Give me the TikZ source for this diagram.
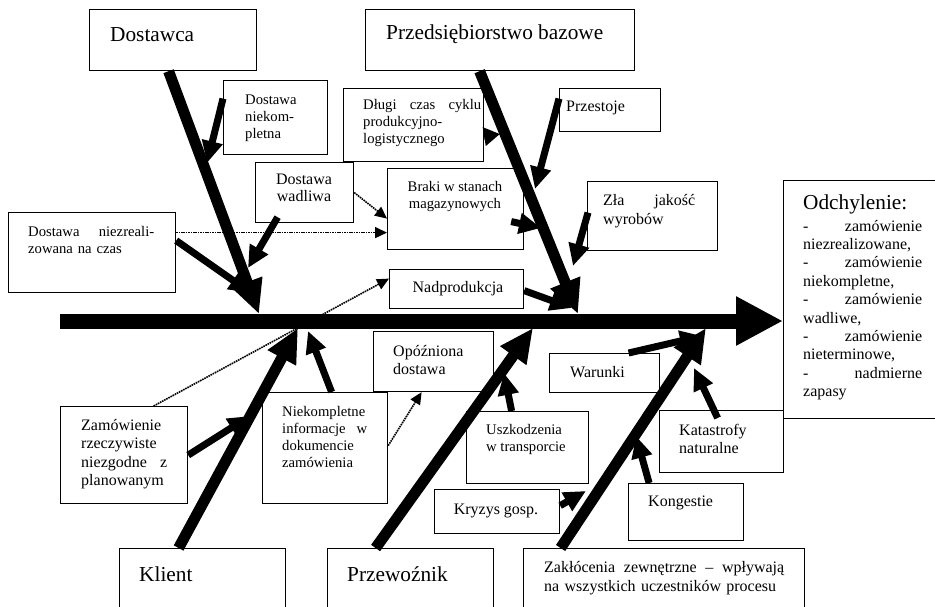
\documentclass[tikz,border=0pt]{standalone}
\usepackage{fontspec}
\setmainfont{Liberation Serif}
\usetikzlibrary{arrows.meta}

\begin{document}
\begin{tikzpicture}[x = 1pt, y = -1pt]
  \tikzset{
      every node/.append style = {
          inner sep = 0pt,
          font = \fontsize{16}{18.4}\selectfont
      },
      box/.style = {
          draw,
          fill = white,
          line width = 1.2pt,
          anchor = north west
      },
      txt/.style = {
          align = left
      },
      smalltext/.style = {
          font = \fontsize{14.67}{17}\selectfont
      },
      bigtext/.style = {
          font = \fontsize{21.3}{25}\selectfont
      },
      spine/.style = {
          line width = 15pt,
          -{Triangle[length = 47pt, width = 46pt]}
      },
      bone/.style = {
          line width = 11pt,
          -{Triangle[length = 34pt, width = 30pt]}
      },
      cause/.style = {
          line width = 7pt,
          -{Triangle[length = 22pt, width = 20pt]}
      },
      hint/.style = {
          line width = 1.6pt,
          dash pattern = on 1.6pt off 0.8pt,
          -{Triangle[length = 12pt, width = 11pt]}
      }
  }
  \useasboundingbox (0,0) rectangle (935,607);
  \clip (0,0) rectangle (935,607);

  \node[box, minimum width = 167pt, minimum height = 61pt] (dost) at (89,9) {};
  \node[box, minimum width = 269pt, minimum height = 61pt] (przed) at (365,9) {};
  \node[box, minimum width = 104pt, minimum height = 74pt] (dnk) at (223,80) {};
  \node[box, minimum width = 98pt, minimum height = 60pt] (dw) at (255,162) {};
  \node[box, minimum width = 167pt, minimum height = 80pt] (dnc) at (8,212) {};
  \node[box, minimum width = 140pt, minimum height = 73pt] (dlugi) at (343,88) {};
  \node[box, minimum width = 101pt, minimum height = 43pt] (przest) at (559,88) {};
  \node[box, minimum width = 136pt, minimum height = 81pt] (braki) at (387,168) {};
  \node[box, minimum width = 130pt, minimum height = 69pt] (zla) at (587,181) {};
  \node[box, minimum width = 134pt, minimum height = 39pt] (nadpr) at (389,269) {};
  \node[box, minimum width = 170pt, minimum height = 238pt] (odch) at (783,180) {};
  \node[box, minimum width = 110pt, minimum height = 39pt] (war) at (549,353) {};
  \node[box, minimum width = 120pt, minimum height = 60pt] (opozn) at (373,331) {};
  \node[box, minimum width = 125pt, minimum height = 111pt] (nki) at (262,392) {};
  \node[box, minimum width = 127pt, minimum height = 97pt] (zam) at (60,406) {};
  \node[box, minimum width = 122pt, minimum height = 72pt] (uszk) at (466,411) {};
  \node[box, minimum width = 125pt, minimum height = 44pt] (kryz) at (434,489) {};
  \node[box, minimum width = 124pt, minimum height = 62pt] (kat) at (659,410) {};
  \node[box, minimum width = 115pt, minimum height = 57pt] (kong) at (628,483) {};
  \node[box, minimum width = 166pt, minimum height = 80pt] (klient) at (119,548) {};
  \node[box, minimum width = 166pt, minimum height = 80pt] (przew) at (327,548) {};
  \node[box, minimum width = 281pt, minimum height = 80pt] (zakl) at (523,548) {};

  \coordinate (s0) at (60,321);
  \coordinate (jd) at (259,314);
  \coordinate (jp) at (578,314);
  \coordinate (jk) at (298,328);
  \coordinate (jw) at (533,328);
  \coordinate (jz) at (706,328);
  \coordinate (t1) at (207,163);
  \coordinate (t2) at (248,268);
  \coordinate (t3) at (251,293);
  \coordinate (t4) at (500,134);
  \coordinate (t5) at (535,189);
  \coordinate (t6) at (541,228);
  \coordinate (t7) at (573,266);
  \coordinate (t8) at (572,308);
  \coordinate (t9) at (250,416);
  \coordinate (t10) at (308,331);
  \coordinate (t11) at (504,373);
  \coordinate (t12) at (586,491);
  \coordinate (t13) at (636,436);
  \coordinate (t14) at (694,368);
  \coordinate (t15) at (702,336);

  \path ([shift={(0,-20)}]dnc.east) edge[hint] ([shift={(0,23.5)}]braki.west);
  \path (dw.east) edge[hint] ([shift={(0,9.5)}]braki.west);
  \path ([shift={(29.5,0)}]zam.north) edge[hint] ([shift={(0,-10.5)}]nadpr.west);
  \path ([shift={(0,-2.5)}]nki.east) edge[hint] ([shift={(-12,0)}]opozn.south);

  \path ([shift={(0,-19)}]dnk.west) edge[cause] (t1);
  \path ([shift={(-27,-6)}]dw.south) edge[cause] (t2);
  \path ([shift={(0,-12)}]dnc.east) edge[cause] (t3);
  \path ([shift={(0,11.5)}]dlugi.east) edge[cause, -{Triangle[length = 16pt, width = 18pt]}] (t4);
  \path ([shift={(0,-11.5)}]przest.west) edge[cause] (t5);
  \path ([shift={(-13,12.5)}]braki.east) edge[cause] (t6);
  \path ([shift={(1,-3.5)}]zla.west) edge[cause] (t7);
  \path ([shift={(0,1.5)}]nadpr.east) edge[cause] (t8);
  \path (zam.east) edge[cause] (t9);
  \path ([shift={(6.5,0)}]nki.north) edge[cause] (t10);
  \path ([shift={(-16,0)}]uszk.north) edge[cause] (t11);
  \path ([shift={(0,-6)}]kryz.east) edge[cause] (t12);
  \path ([shift={(-37,0)}]kong.north) edge[cause] (t13);
  \path ([shift={(-4,8)}]kat.north) edge[cause] (t14);
  \path ([shift={(24,0)}]war.north) edge[cause] (t15);

  \path ([shift={(-4.5,0)}]dost.south) edge[bone] (jd);
  \path ([shift={(-20.5,0)}]przed.south) edge[bone] (jp);
  \path ([shift={(-24,0)}]klient.north) edge[bone] (jk);
  \path ([shift={(-35,0)}]przew.north) edge[bone] (jw);
  \path ([shift={(-103.5,0)}]zakl.north) edge[bone] (jz);

  \path (s0) edge[spine] (s0 -| odch.west);

  \node[txt, bigtext, anchor = west] (dost-t) at (110,35) {Dostawca};
  \node[txt, bigtext, anchor = west] (przed-t) at (386,34) {Przedsiębiorstwo bazowe};
  \node[txt, smalltext, anchor = west] (dnk-t) at (245,118) {Dostawa\\niekom-\\pletna};
  \node[txt, align = center, font = \fontsize{16}{17}\selectfont] (dw-t) at (304,188) {Dostawa\\wadliwa};
  \node[txt, smalltext, anchor = west, text width = 126pt] (dnc-t) at (28,240) {Dostawa\hfill niezreali-\\zowana na czas};
  \node[txt, smalltext, anchor = west, text width = 118pt] (dlugi-t) at (363,123) {Długi\hfill czas\hfill cyklu\\produkcyjno-\\logistycznego};
  \node[txt, anchor = west] (przest-t) at (566,108) {Przestoje};
  \node[txt, smalltext, align = center] (braki-t) at (455,196) {Braki w stanach\\magazynowych};
  \node[txt, anchor = west, text width = 92pt] (zla-t) at (603,211) {Zła\hfill jakość\\wyrobów};
  \node[txt, align = center] (nadpr-t) at (458,289) {Nadprodukcja};
  \node[txt, bigtext, anchor = west] (odch-t) at (803,204) {Odchylenie:};
  \node[txt, anchor = west, text width = 119pt] (odch-l) at (803,310) {-\hfill zamówienie\\niezrealizowane,\\-\hfill zamówienie\\niekompletne,\\-\hfill zamówienie\\wadliwe,\\-\hfill zamówienie\\nieterminowe,\\-\hfill nadmierne\\zapasy};
  \node[txt, anchor = west] (war-t) at (570,372) {Warunki};
  \node[txt, anchor = west] (opozn-t) at (393,360) {Opóźniona\\dostawa};
  \node[txt, smalltext, anchor = west, text width = 85pt] (nki-t) at (282,437) {Niekompletne\\informacje\hfill w\\dokumencie\\zamówienia};
  \node[txt, anchor = west, text width = 86pt] (zam-t) at (81,454) {Zamówienie\\rzeczywiste\\niezgodne\hfill z\\planowanym};
  \node[txt, smalltext, anchor = west] (uszk-t) at (486,439) {Uszkodzenia\\w transporcie};
  \node[txt, align = center] (kryz-t) at (496,511) {Kryzys gosp.};
  \node[txt, anchor = west] (kat-t) at (679,439) {Katastrofy\\naturalne};
  \node[txt, anchor = west] (kong-t) at (648,503) {Kongestie};
  \node[txt, bigtext, anchor = west] (klient-t) at (139,574) {Klient};
  \node[txt, bigtext, anchor = west] (przew-t) at (347,574) {Przewoźnik};
  \node[txt, anchor = west, text width = 240pt] (zakl-t) at (544,578) {Zakłócenia\hfill zewnętrzne\hfill –\hfill wpływają\\na wszystkich uczestników procesu};
\end{tikzpicture}
\end{document}
